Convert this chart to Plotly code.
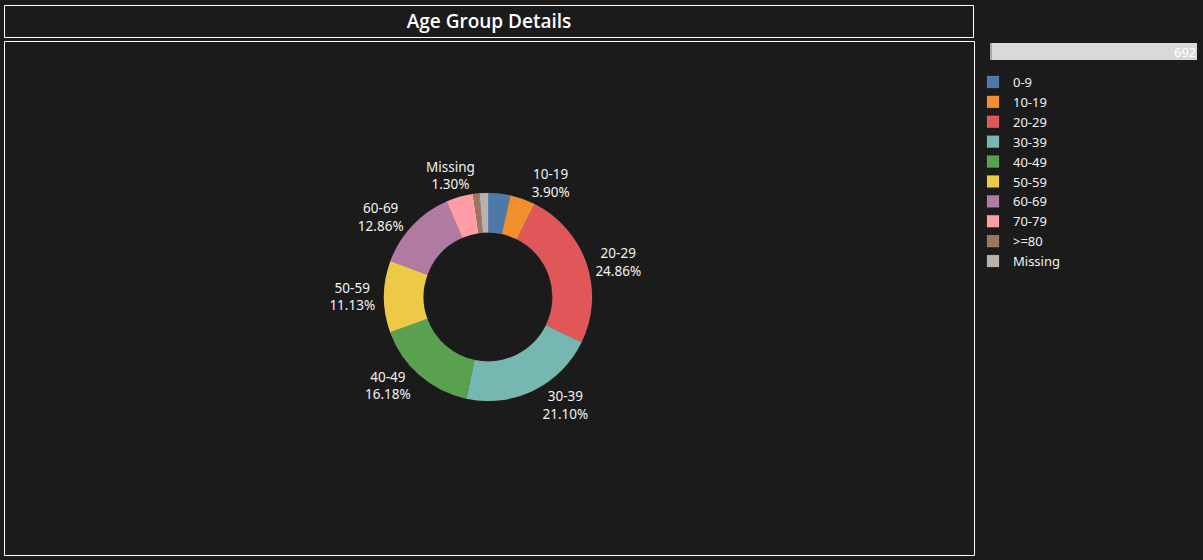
import plotly.graph_objects as go

age_groups = ['0-9', '10-19', '20-29', '30-39', '40-49', '50-59', '60-69', '70-79', '>=80', 'Missing']
counts = [24, 27, 172, 146, 112, 77, 89, 29, 7, 9]
show_label = [False, True, True, True, True, True, True, False, False, True]
colors = ['#4e79a7', '#f28e2b', '#e15759', '#76b7b2', '#59a14f',
          '#edc948', '#b07aa1', '#ff9da7', '#9c755f', '#bab0ac']

W, H = 1203, 560
bg = '#1b1b1b'
font_family = 'Noto Sans, Open Sans, sans-serif'


def px_x(v):
    return v / W


def px_y(v):
    return 1 - v / H


templates = ['%{label}<br>%{percent:.2%}' if s else '' for s in show_label]

# donut centre ~ (488, 297), outer radius ~104
cx, cy, r = 488, 297, 104

fig = go.Figure(go.Pie(
    labels=age_groups,
    values=counts,
    sort=False,
    direction='clockwise',
    rotation=0,
    hole=0.62,
    marker=dict(colors=colors, line=dict(color='rgba(255,255,255,0.15)', width=0.5)),
    texttemplate=templates,
    textposition='outside',
    textfont=dict(color='#f2f2f2', size=13.5, family=font_family),
    hoverinfo='label+value+percent',
    domain=dict(x=[px_x(cx - r), px_x(cx + r)], y=[px_y(cy + r), px_y(cy - r)]),
    showlegend=True,
))

# frames for title box and chart box
fig.add_shape(type='rect', xref='paper', yref='paper',
              x0=px_x(4.5), x1=px_x(973.5), y0=px_y(37.5), y1=px_y(5.5),
              line=dict(color='#ffffff', width=1))
fig.add_shape(type='rect', xref='paper', yref='paper',
              x0=px_x(4.5), x1=px_x(974.5), y0=px_y(555.5), y1=px_y(41.5),
              line=dict(color='#ffffff', width=1))

# total bar at the top right
fig.add_shape(type='rect', xref='paper', yref='paper',
              x0=px_x(990), x1=px_x(1197), y0=px_y(60), y1=px_y(43),
              fillcolor='#d9d9d9', line=dict(width=0))
fig.add_shape(type='rect', xref='paper', yref='paper',
              x0=px_x(990), x1=px_x(992), y0=px_y(60), y1=px_y(43),
              fillcolor='#a8a8a8', line=dict(width=0))
fig.add_annotation(xref='paper', yref='paper', x=px_x(1198), y=px_y(51.5),
                   text=str(sum(counts)), showarrow=False, xanchor='right', yanchor='middle',
                   font=dict(color='#ffffff', size=13, family=font_family))

fig.update_layout(
    width=W, height=H,
    margin=dict(l=0, r=0, t=0, b=0),
    paper_bgcolor=bg,
    plot_bgcolor=bg,
    title=dict(text='Age Group Details', x=px_x(489), xanchor='center',
               y=px_y(21.5), yanchor='middle',
               font=dict(color='#ffffff', size=19, family='Open Sans, Noto Sans, sans-serif',
                         weight=600)),
    legend=dict(x=px_x(973), y=px_y(67), xanchor='left', yanchor='top',
                font=dict(color='#f2f2f2', size=13, family=font_family),
                bgcolor='rgba(0,0,0,0)', tracegroupgap=0, itemwidth=30,
                traceorder='normal'),
)

fig.write_html('out.html', config={'displayModeBar': False},
               post_script="document.body.style.margin='0';"
               "document.body.style.background='#1b1b1b';")
